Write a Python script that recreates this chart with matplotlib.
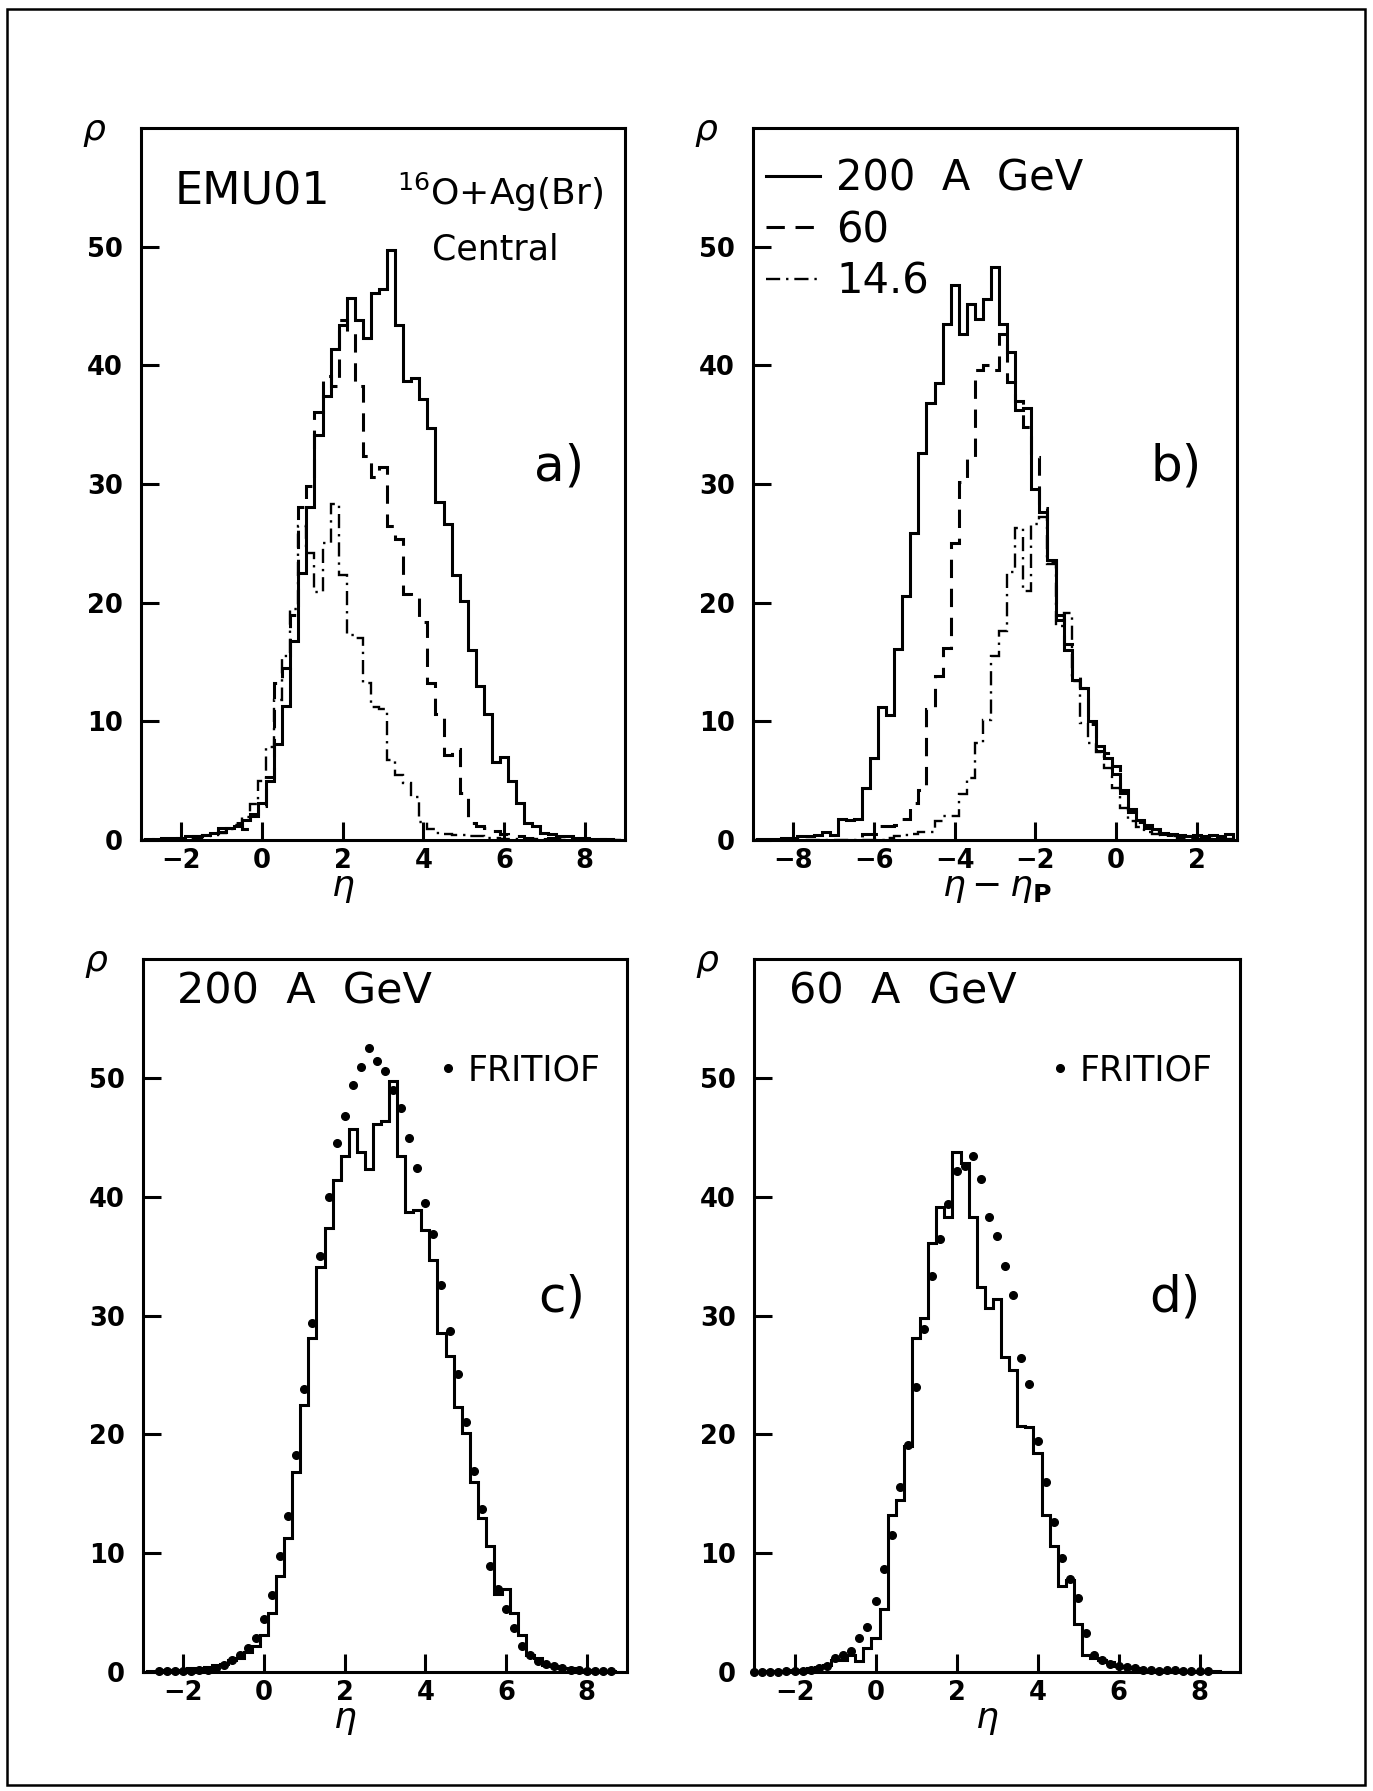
import numpy as np
import matplotlib
matplotlib.use("Agg")
import matplotlib.pyplot as plt
from matplotlib.lines import Line2D
from matplotlib.patches import Rectangle

plt.rcParams['font.family'] = ['DejaVu Sans']
plt.rcParams['mathtext.fontset'] = 'dejavusans'

BIN = 0.2

# --- pseudorapidity histograms, bin centres start at eta = -3.0 (panels a, c, d)
eta_start = -3.0
rho_200 = [0.0, 0.1, 0.1, 0.2, 0.2, 0.2, 0.3, 0.3, 0.4, 0.6, 0.7, 1.0, 1.2, 1.7, 2.2,
           3.1, 5.0, 8.1, 11.3, 16.8, 22.5, 28.1, 34.1, 37.4, 41.4, 43.4, 45.7, 43.8, 42.3,
           46.1, 46.4, 49.7, 43.4, 38.7, 38.9, 37.2, 34.7, 28.5, 26.6, 22.3, 20.1, 16.0,
           13.0, 10.6, 6.6, 7.0, 5.0, 3.1, 1.4, 1.2, 0.6, 0.5, 0.3, 0.3, 0.2, 0.2, 0.1,
           0.1, 0.1, 0.0]
rho_60 = [0.0, 0.0, 0.05, 0.1, 0.1, 0.2, 0.2, 0.3, 0.4, 0.6, 1.0, 1.0, 1.4, 0.9, 2.0,
          2.9, 5.3, 13.2, 14.5, 19.0, 28.1, 29.8, 36.1, 39.1, 38.3, 43.8, 42.8, 38.3, 32.4,
          30.6, 31.4, 26.5, 25.4, 20.7, 20.6, 18.4, 13.2, 10.6, 7.2, 7.7, 4.0, 1.4, 1.2,
          1.0, 0.8, 0.5, 0.4, 0.3, 0.2, 0.2, 0.1, 0.2, 0.2, 0.1, 0.1, 0.1, 0.05, 0.05,
          0.0, 0.0]
rho_146 = [0.0, 0.0, 0.0, 0.05, 0.1, 0.1, 0.2, 0.2, 0.3, 0.4, 0.6, 0.9, 1.3, 1.9, 3.0,
           5.0, 7.8, 11.8, 15.5, 19.5, 26.5, 24.2, 20.9, 25.0, 28.3, 22.3, 17.3, 17.0, 13.2,
           11.2, 11.0, 6.7, 5.5, 4.8, 3.6, 1.5, 0.9, 0.6, 0.5, 0.4, 0.4, 0.3, 0.3, 0.2,
           0.2, 0.1, 0.1, 0.1, 0.1, 0.05, 0.0, 0.0, 0.0, 0.0, 0.0, 0.0, 0.0, 0.0, 0.0, 0.0]

# --- FRITIOF predictions (dots)
frit200_start = -2.6
frit_200 = [0.05, 0.05, 0.1, 0.1, 0.1, 0.2, 0.2, 0.3, 0.6, 1.0, 1.4, 2.0, 2.9,
            4.5, 6.5, 9.8, 13.1, 18.3, 23.8, 29.4, 35.0, 40.0, 44.5, 46.8, 49.4, 50.9,
            52.5, 51.4, 50.6, 49.0, 47.5, 44.9, 42.4, 39.5, 36.9, 32.6, 28.7, 25.1, 21.0,
            16.9, 13.7, 8.9, 7.0, 5.3, 3.7, 2.2, 1.4, 0.9, 0.7, 0.5, 0.3, 0.2, 0.15, 0.1,
            0.1, 0.05, 0.05]
frit60_start = -3.0
frit_60 = [0.0, 0.0, 0.0, 0.0, 0.05, 0.1, 0.1, 0.2, 0.3, 0.5, 1.2, 1.4, 1.8, 2.9, 3.8,
           6.0, 8.7, 11.5, 15.6, 19.1, 24.0, 28.9, 33.3, 36.4, 39.4, 42.2, 42.6, 43.4,
           41.5, 38.3, 36.7, 34.2, 31.7, 26.4, 24.2, 19.4, 16.0, 12.6, 9.6, 7.8, 6.2, 3.3,
           1.4, 1.0, 0.7, 0.5, 0.4, 0.3, 0.2, 0.2, 0.1, 0.2, 0.2, 0.1, 0.1, 0.05, 0.05]

# --- eta - eta_P histograms, bin centres start at -9.0 (panel b)
shift_start = -9.0
rhoP_200 = [0.0, 0.1, 0.1, 0.1, 0.2, 0.2, 0.3, 0.3, 0.4, 0.7, 0.4, 1.8, 1.7, 1.8, 4.4,
            6.9, 11.2, 10.5, 16.1, 20.6, 25.9, 32.6, 36.8, 38.5, 43.5, 46.8, 42.6, 45.2,
            43.9, 45.6, 48.3, 43.5, 41.1, 36.2, 36.4, 29.6, 27.6, 23.6, 19.0, 16.0, 13.5,
            12.8, 10.0, 7.9, 6.9, 5.6, 4.2, 2.6, 1.7, 1.3, 0.9, 0.6, 0.5, 0.4, 0.3, 0.4,
            0.3, 0.4, 0.3, 0.5]
rhoP_60 = [0.0] * 13 + [0.2, 0.5, 0.5, 1.2, 1.2, 1.3, 1.8, 3.1, 4.2, 11.0, 13.8, 16.2,
                        25.0, 30.2, 32.3, 39.6, 40.0, 39.6, 42.6, 38.6, 37.0, 34.8, 32.3,
                        28.0, 23.5, 18.5, 16.5, 14.0, 12.8, 9.8, 7.5, 7.3,
                        6.2, 4.0, 2.4, 1.5, 1.0, 0.7, 0.5, 0.4, 0.3, 0.3, 0.2, 0.2, 0.1,
                        0.1, 0.1]
rhoP_146 = [0.0] * 17 + [0.2, 0.3, 0.4, 0.5, 0.7, 0.7, 1.6, 2.0, 2.0, 3.9, 5.2, 8.2, 10.1,
                         15.5, 17.6, 22.6, 26.3, 21.0, 26.6, 27.2, 23.3, 18.0, 19.1, 13.4,
                         9.9, 8.2, 7.4, 6.1,
                         4.4, 2.7, 1.6, 1.1, 0.7, 0.5, 0.4, 0.3, 0.2, 0.2, 0.1, 0.1, 0.1,
                         0.05, 0.05]

energy_labels = ['200  A  GeV', '60', '14.6']
yticks = [0, 10, 20, 30, 40, 50]
eta_ticks = [-2, 0, 2, 4, 6, 8]
shift_ticks = [-8, -6, -4, -2, 0, 2]

W, H = 1373, 1791
LW = 2.2
DASH = (0, (6, 3.5))
DASHDOT = (0, (6, 2.5, 1, 2.5))


def edges(start, vals):
    return start - BIN / 2 + BIN * np.arange(len(vals) + 1)


def centres(start, vals):
    return start + BIN * np.arange(len(vals))


def make_axes(fig, left, top, right, bottom):
    return fig.add_axes([left / W, (H - bottom) / H, (right - left) / W, (bottom - top) / H])


def style(ax, xlim, xticks, xlabel, xlabel_x):
    ax.set_xlim(*xlim)
    ax.set_ylim(0, 60)
    ax.set_xticks(xticks)
    ax.set_yticks(yticks)
    ax.tick_params(direction='in', length=13, width=LW, top=False, right=False, labelsize=18.5)
    ax.tick_params(axis='x', pad=6)
    ax.tick_params(axis='y', pad=13)
    plt.setp(ax.get_xticklabels(), fontweight='bold')
    plt.setp(ax.get_yticklabels(), fontweight='bold')
    for s in ax.spines.values():
        s.set_linewidth(LW)
    ax.text(-0.097, 0.995, r'$\rho$', transform=ax.transAxes, fontsize=26,
            ha='center', va='center')
    ax.text(xlabel_x, -0.068, xlabel, transform=ax.transAxes, fontsize=26,
            ha='center', va='center')


fig = plt.figure(figsize=(W / 100, H / 100), dpi=100)
fig.patches.append(Rectangle((7 / W, 6 / H), 1358 / W, 1776 / H, transform=fig.transFigure,
                             fill=False, edgecolor='k', lw=1.8))

ax_a = make_axes(fig, 141, 128, 625, 840)
ax_b = make_axes(fig, 753, 128, 1237, 840)
ax_c = make_axes(fig, 143, 959, 627, 1672)
ax_d = make_axes(fig, 754, 959, 1240, 1672)

# (a) eta distributions at three energies
ax_a.stairs(rho_200, edges(eta_start, rho_200), color='k', lw=LW, baseline=0)
ax_a.stairs(rho_60, edges(eta_start, rho_60), color='k', lw=LW, ls=DASH, baseline=0)
ax_a.stairs(rho_146, edges(eta_start, rho_146), color='k', lw=1.7, ls=DASHDOT, baseline=0)
style(ax_a, (-3, 9), eta_ticks, r'$\eta$', 0.417)
ax_a.text(0.070, 0.910, 'EMU01', transform=ax_a.transAxes, fontsize=32, va='center')
ax_a.text(0.529, 0.910, r'$^{16}$O+Ag(Br)', transform=ax_a.transAxes, fontsize=26, va='center')
ax_a.text(0.601, 0.830, 'Central', transform=ax_a.transAxes, fontsize=25, va='center')
ax_a.text(0.864, 0.524, 'a)', transform=ax_a.transAxes, fontsize=36, ha='center', va='center')

# (b) shifted to projectile rapidity
ax_b.stairs(rhoP_200, edges(shift_start, rhoP_200), color='k', lw=LW, baseline=0)
ax_b.stairs(rhoP_60, edges(shift_start, rhoP_60), color='k', lw=LW, ls=DASH, baseline=0)
ax_b.stairs(rhoP_146, edges(shift_start, rhoP_146), color='k', lw=1.7, ls=DASHDOT, baseline=0)
style(ax_b, (-9, 3), shift_ticks, r'$\eta-\eta_{\mathbf{P}}$', 0.504)
handles = [Line2D([], [], color='k', lw=LW),
           Line2D([], [], color='k', lw=LW, ls=DASH),
           Line2D([], [], color='k', lw=1.7, ls=DASHDOT)]
ax_b.legend(handles, energy_labels, loc='upper left', bbox_to_anchor=(0.027, 0.958),
            frameon=False, fontsize=30, handlelength=1.3, handletextpad=0.38,
            labelspacing=0.22, borderpad=0, borderaxespad=0)
ax_b.text(0.874, 0.524, 'b)', transform=ax_b.transAxes, fontsize=36, ha='center', va='center')

# (c), (d) comparison with FRITIOF
for ax, vals, fstart, fvals, title, lab in [
        (ax_c, rho_200, frit200_start, frit_200, '200  A  GeV', 'c)'),
        (ax_d, rho_60, frit60_start, frit_60, '60  A  GeV', 'd)')]:
    ax.stairs(vals, edges(eta_start, vals), color='k', lw=LW, baseline=0)
    ax.plot(centres(fstart, fvals), fvals, 'o', color='k', ms=5.5, ls='none', clip_on=False)
    ax.text(0.071, 0.955, title, transform=ax.transAxes, fontsize=31, va='center')
    ax.text(0.865, 0.525, lab, transform=ax.transAxes, fontsize=36, ha='center', va='center')
    ax.legend([Line2D([], [], color='k', marker='o', ms=5.5, ls='none')], ['FRITIOF'],
              loc='upper left', bbox_to_anchor=(0.609, 0.868), frameon=False, fontsize=25,
              handlelength=0.6, handletextpad=0.25, borderpad=0, borderaxespad=0)

style(ax_c, (-3, 9), eta_ticks, r'$\eta$', 0.417)
style(ax_d, (-3, 9), eta_ticks, r'$\eta$', 0.48)

fig.savefig('out.png', dpi=100)
